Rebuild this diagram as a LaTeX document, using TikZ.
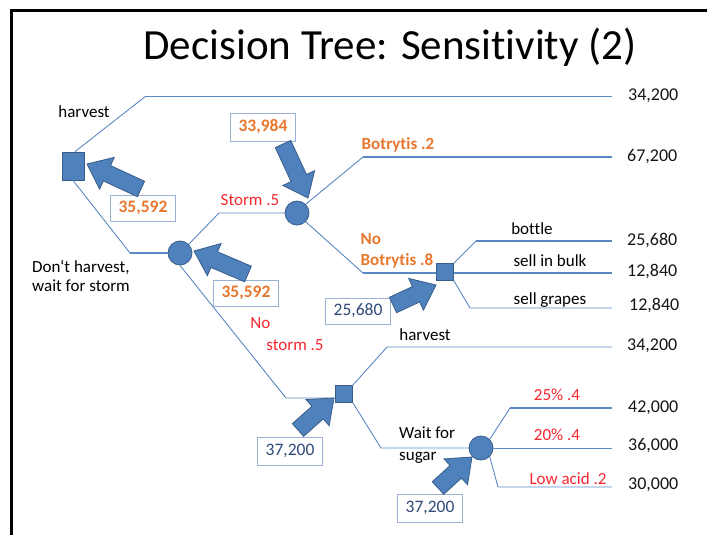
\documentclass[tikz,border=0pt]{standalone}
\usepackage{fontspec}
\setmainfont{Carlito}[RawFeature={-liga;-clig;-calt;-dlig}]
\usetikzlibrary{calc}
\definecolor{treeblue}{HTML}{4F81BD}
\definecolor{lineblue}{HTML}{5B87C3}
\definecolor{nodeedge}{HTML}{385D8A}
\definecolor{boxedge}{HTML}{9BB1D4}
\definecolor{orangetxt}{HTML}{E8772E}
\definecolor{redtxt}{HTML}{F8262E}
\definecolor{navytxt}{HTML}{2E4A78}
\definecolor{valtxt}{HTML}{151515}
\tikzset{
  branch/.style={draw=lineblue, line width=0.9pt},
  thickbranch/.style={draw=lineblue, line width=1.4pt},
  decision/.style={rectangle, fill=treeblue, draw=nodeedge, line width=0.8pt, inner sep=0pt},
  chance/.style={circle, fill=treeblue, draw=nodeedge, line width=0.8pt, inner sep=0pt, minimum size=24pt},
  lbl/.style={font=\fontsize{17}{20}\selectfont, text=black, inner sep=0pt},
  plbl/.style={font=\fontsize{17}{20}\selectfont, inner sep=0pt},
  val/.style={font=\fontsize{18}{20}\selectfont, text=valtxt, anchor=west, inner sep=0pt},
  valbox/.style={draw=boxedge, line width=0.9pt, fill=white, minimum width=65pt, minimum height=26pt, inner sep=0pt, font=\fontsize{17.5}{20}\selectfont},
  blockarr/.style={fill=treeblue, draw=nodeedge, line width=0.8pt, line join=miter},
}
\newcommand\blockarrow[2]{%
  \coordinate (hb-#1) at ($(#2)!22pt!(#1)$);
  \path[blockarr] ($(#1)!8.5pt!90:(#2)$) -- ($(hb-#1)!8.5pt!-90:(#1)$) -- ($(hb-#1)!17.5pt!-90:(#1)$)
     -- (#2) -- ($(hb-#1)!17.5pt!90:(#1)$) -- ($(hb-#1)!8.5pt!90:(#1)$) -- ($(#1)!8.5pt!-90:(#2)$) -- cycle;
}
\begin{document}
\begin{tikzpicture}[x=1pt,y=-1pt]
\useasboundingbox (0,0) rectangle (707,535);
% frame
\draw[line width=3pt, black] (11,535) -- (11,11) -- (707,11);
% title
\node[font=\fontsize{43}{48}\selectfont, inner sep=0pt] (title) at (390,47) {Decision Tree: Sensit\kern0pt ivity (2)};

% nodes
\node[decision, minimum width=22pt, minimum height=28pt] (sq1) at (73,166) {};
\node[chance] (c1) at (180,253) {};
\node[chance] (c2) at (297,213) {};
\node[decision, minimum size=17pt] (sq3) at (445,272) {};
\node[decision, minimum size=17pt] (sq4) at (344,394) {};
\node[chance] (c5) at (481,448) {};

% elbows and ends
\coordinate (e1) at (146,96);  \coordinate (f1) at (612,96);
\coordinate (e2) at (130,253);
\coordinate (e3) at (219,213);
\coordinate (e4) at (363,157); \coordinate (f4) at (612,157);
\coordinate (e5) at (363,273);
\coordinate (e6) at (476,241); \coordinate (f6) at (612,241);
\coordinate (f7) at (612,273);
\coordinate (e8) at (470,308); \coordinate (f8) at (612,308);
\coordinate (e9) at (286,398);
\coordinate (e10) at (387,347); \coordinate (f10) at (612,347);
\coordinate (e11) at (381,448);
\coordinate (e12) at (510,408); \coordinate (f12) at (612,408);
\coordinate (f13) at (612,448);
\coordinate (e14) at (498,487); \coordinate (f14) at (612,487);

% branches
\draw[branch] ($(sq1.north)+(2,0)$) -- (e1);
\draw[branch] (e1) -- (f1);
\draw[branch] (sq1.south) -- (e2);
\draw[thickbranch] (e2) -- (c1.west);
\draw[branch] (c1.north east) -- (e3) -- (c2.west);
\draw[branch] (c2.north east) -- (e4);
\draw[thickbranch] (e4) -- (f4);
\draw[branch] (c2.south east) -- (e5);
\draw[thickbranch] (e5) -- (e5 -| sq3.west);
\draw[branch] (sq3.north east) -- (e6);
\draw[thickbranch] (e6) -- (f6);
\draw[thickbranch] (sq3.east |- f7) -- (f7);
\draw[branch] (sq3.south east) -- (e8) -- (f8);
\draw[branch] (c1.south) -- (e9) -- (e9 -| sq4.west);
\draw[branch] (sq4.north east) -- (e10) -- (f10);
\draw[branch] (sq4.south east) -- (e11) -- (c5.west);
\draw[branch] (c5.north east) -- (e12);
\draw[thickbranch] (e12) -- (f12);
\draw[branch] (c5.east) -- (f13);
\draw[branch] (c5.south east) -- (e14) -- (f14);

% branch labels
\node[lbl] (l1) at (84,112) {harvest};
\node[lbl, align=left, font=\fontsize{17}{19}\selectfont] (l2) at (81,276) {Don‘t harvest,\\wait for storm};
\node[plbl, text=redtxt] (l3) at (250,200) {Storm .5};
\node[plbl, text=orangetxt, font=\fontsize{17}{20}\selectfont\bfseries] (l4) at (398,145) {Botryt\kern0pt is .2};
\node[plbl, text=orangetxt, align=left, font=\fontsize{17}{21}\selectfont\bfseries] (l5) at (397,251) {No\\Botryt\kern0pt is .8};
\node[lbl] (l6) at (532,229) {bottle};
\node[lbl] (l7) at (550,261) {sell in bulk};
\node[lbl] (l8) at (550,300) {sell grapes};
\node[plbl, text=redtxt, align=left, font=\fontsize{17}{22}\selectfont] (l9) at (287,334) {No\\\hspace*{16pt}storm .5};
\node[lbl] (l10) at (425,335) {harvest};
\node[lbl, align=left, anchor=west, font=\fontsize{17}{22}\selectfont] (l11) at (399,445) {Wait for\\sugar};
\node[plbl, text=redtxt] (l12) at (557,395) {25\% .4};
\node[plbl, text=redtxt] (l13) at (557,435) {20\% .4};
\node[plbl, text=redtxt] (l14) at (568,479) {Low acid .2};

% values
\node[val] (v1) at (628,96) {34,200};
\node[val] (v2) at (627,157) {67,200};
\node[val] (v3) at (627,241) {25,680};
\node[val] (v4) at (627,272) {12,840};
\node[val] (v5) at (629,306) {12,840};
\node[val] (v6) at (627,346) {34,200};
\node[val] (v7) at (628,408) {42,000};
\node[val] (v8) at (628,446) {36,000};
\node[val] (v9) at (628,485) {30,000};

% value boxes
\node[valbox, text=orangetxt, font=\fontsize{17.5}{20}\selectfont\bfseries] (b1) at (143,208) {35,592};
\node[valbox, text=orangetxt, font=\fontsize{17.5}{20}\selectfont\bfseries, minimum height=28pt] (b2) at (263,127) {33,984};
\node[valbox, text=orangetxt, font=\fontsize{17.5}{20}\selectfont\bfseries] (b3) at (246,293) {35,592};
\node[valbox, text=navytxt] (b4) at (358,311) {25,680};
\node[valbox, text=navytxt, minimum height=28pt] (b5) at (290,451) {37,200};
\node[valbox, text=navytxt, minimum height=28pt] (b6) at (430,508) {37,200};

% block arrows
\coordinate (t1) at (141,189); \coordinate (p1) at (87,164);
\coordinate (t2) at (283,144); \coordinate (p2) at (308,198);
\coordinate (t3) at (248,274); \coordinate (p3) at (194,251);
\coordinate (t4) at (393,305); \coordinate (p4) at (436,285);
\coordinate (t5) at (298,430); \coordinate (p5) at (334,398);
\coordinate (t6) at (438,488); \coordinate (p6) at (472,457);
\blockarrow{t1}{p1}
\blockarrow{t2}{p2}
\blockarrow{t3}{p3}
\blockarrow{t4}{p4}
\blockarrow{t5}{p5}
\blockarrow{t6}{p6}
\end{tikzpicture}
\end{document}
